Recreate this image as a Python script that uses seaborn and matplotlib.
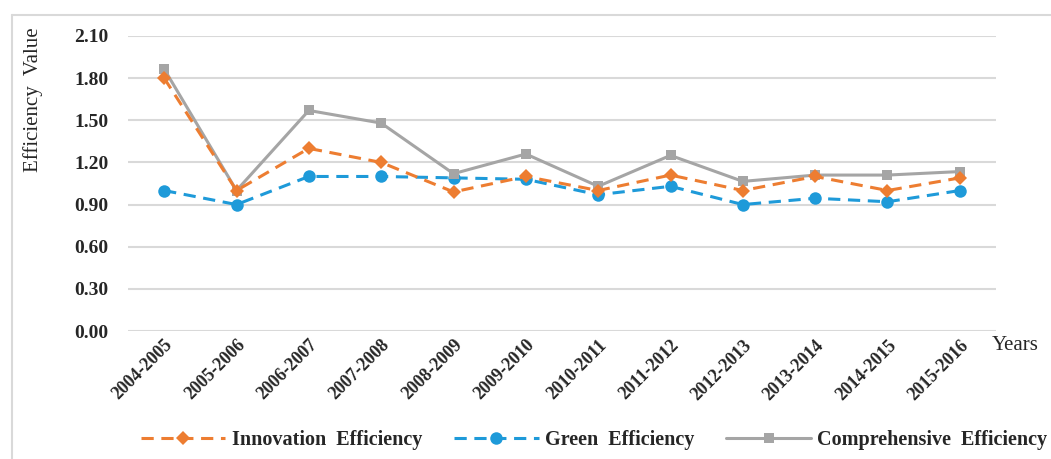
import matplotlib
matplotlib.use("Agg")
import matplotlib.pyplot as plt
import seaborn as sns
import pandas as pd
from matplotlib.lines import Line2D

years = ["2004-2005", "2005-2006", "2006-2007", "2007-2008", "2008-2009", "2009-2010",
         "2010-2011", "2011-2012", "2012-2013", "2013-2014", "2014-2015", "2015-2016"]
innovation = [1.80, 1.00, 1.30, 1.20, 0.99, 1.10, 1.00, 1.11, 1.00, 1.10, 1.00, 1.09]
green = [1.00, 0.90, 1.10, 1.10, 1.09, 1.08, 0.97, 1.03, 0.90, 0.945, 0.92, 1.00]
comprehensive = [1.865, 1.00, 1.57, 1.48, 1.12, 1.26, 1.03, 1.25, 1.065, 1.11, 1.11, 1.135]
yticks = [0.00, 0.30, 0.60, 0.90, 1.20, 1.50, 1.80, 2.10]

sns.set_theme(style="white")
plt.rcParams['font.family'] = ['Liberation Serif', 'DejaVu Serif']

fig = plt.figure(figsize=(10.51, 4.59), dpi=100)
ax = fig.add_axes([128/1051, 1-331/459, (996-128)/1051, (331-36)/459])

c_orange = "#ED7D31"
c_blue = "#1E9AD9"
c_grey = "#A5A5A5"

sns.lineplot(x=years, y=comprehensive, ax=ax, color=c_grey, lw=2.2, marker="s",
             markersize=7.5, markeredgewidth=0, sort=False, zorder=3)
sns.lineplot(x=years, y=innovation, ax=ax, color=c_orange, lw=2.2, marker="D",
             markersize=7, markeredgewidth=0, sort=False, zorder=4)
ax.lines[-1].set_dashes([4, 2.5])
sns.lineplot(x=years, y=green, ax=ax, color=c_blue, lw=2.2, marker="o",
             markersize=9, markeredgewidth=0, sort=False, zorder=2)
ax.lines[-1].set_dashes([4, 2.5])

ax.set_ylim(0, 2.10)
ax.set_xlim(-0.5, len(years) - 0.5)
ax.set_yticks(yticks)
ax.set_yticklabels([f"{v:.2f}" for v in yticks], fontsize=14, fontweight="bold")
ax.tick_params(axis="y", length=0, pad=14)
ax.tick_params(axis="x", length=0, pad=4)
ax.set_xticks(range(len(years)))
ax.set_xticklabels(years, rotation=45, ha="right", rotation_mode="anchor",
                   fontsize=13, fontweight="bold")
ax.grid(axis="y", color="#D9D9D9", lw=1.5)
ax.grid(axis="x", visible=False)
for s in ax.spines.values():
    s.set_visible(False)
ax.set_xlabel("")
ax.set_ylabel("")

fig.text(33/1051, 1-100/459, "Efficiency  Value", rotation=90, ha="center", va="center",
         fontsize=15)
fig.text(1015/1051, 1-345/459, "Years", ha="center", va="center", fontsize=15)

# outer frame
fig.add_artist(Line2D([12/1051, 1], [1-15/459, 1-15/459], color="#D9D9D9", lw=1.5,
                      transform=fig.transFigure))
fig.add_artist(Line2D([12/1051, 12/1051], [0, 1-15/459], color="#D9D9D9", lw=1.5,
                      transform=fig.transFigure))

handles = [
    Line2D([], [], color=c_orange, lw=2.2, dashes=[4, 2.5], marker="D", markersize=7,
           markeredgewidth=0),
    Line2D([], [], color=c_blue, lw=2.2, dashes=[4, 2.5], marker="o", markersize=9,
           markeredgewidth=0),
    Line2D([], [], color=c_grey, lw=2.2, marker="s", markersize=7.5, markeredgewidth=0),
]
labels = ["Innovation  Efficiency", "Green  Efficiency", "Comprehensive  Efficiency"]
fig.legend(handles, labels, loc="center", bbox_to_anchor=(594/1051, 1-440/459), ncol=3,
           frameon=False, handlelength=4.2, handletextpad=0.3, columnspacing=1.6,
           prop={"family": "Liberation Serif", "weight": "bold", "size": 14.5})

fig.savefig("out.png", dpi=100)
